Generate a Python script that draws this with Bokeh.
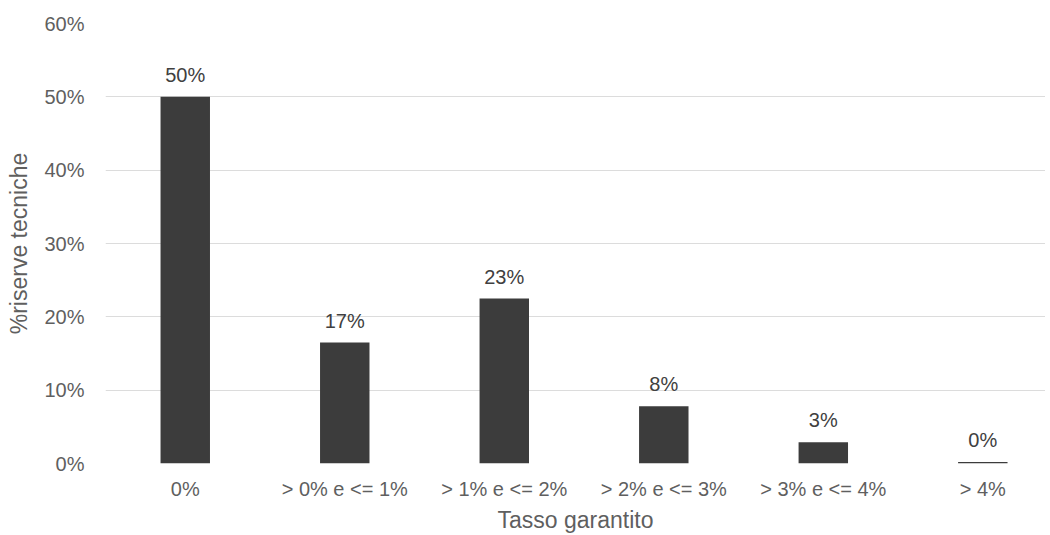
from bokeh.plotting import figure
from bokeh.models import ColumnDataSource, LabelSet, Range1d, FixedTicker, NumeralTickFormatter
from bokeh.core.properties import value
from bokeh.embed import file_html
from bokeh.resources import INLINE

categories = ["0%", "> 0% e <= 1%", "> 1% e <= 2%", "> 2% e <= 3%", "> 3% e <= 4%", "> 4%"]
values = [0.50, 0.165, 0.225, 0.078, 0.029, 0.002]
labels = ["50%", "17%", "23%", "8%", "3%", "0%"]
y_ticks = [0, 0.1, 0.2, 0.3, 0.4, 0.5, 0.6]

xs = list(range(len(categories)))
src = ColumnDataSource(dict(x=xs, top=values, lab=labels))

font = "Liberation Sans"

p = figure(width=1045, height=535, output_backend="svg", toolbar_location=None,
           x_range=Range1d(-0.5, 5.393), y_range=Range1d(0, 0.6),
           min_border_left=105, min_border_top=23, min_border_right=0, min_border_bottom=72)

p.vbar(x="x", top="top", width=0.31, source=src, color="#3c3c3c", line_color=None)

p.add_layout(LabelSet(x="x", y="top", text="lab", source=src, y_offset=11,
                      text_align="center", text_baseline="bottom",
                      text_font=value(font), text_font_size="20px",
                      text_color="#404040"))

p.outline_line_color = None
p.background_fill_color = "white"
p.border_fill_color = "white"

p.xgrid.grid_line_color = None
p.ygrid.grid_line_color = "#dcdcdc"
p.ygrid.grid_line_width = 1
p.yaxis.ticker = FixedTicker(ticks=y_ticks)
p.yaxis.formatter = NumeralTickFormatter(format="0%")

p.xaxis.ticker = FixedTicker(ticks=xs)
p.xaxis.major_label_overrides = {i: c for i, c in enumerate(categories)}

for ax in (p.xaxis, p.yaxis):
    ax.axis_line_color = None
    ax.major_tick_line_color = None
    ax.minor_tick_line_color = None
    ax.major_tick_out = 0
    ax.major_tick_in = 0
    ax.major_label_text_font = font
    ax.major_label_text_font_size = "20px"
    ax.major_label_text_color = "#5f5f5f"
    ax.axis_label_text_font = font
    ax.axis_label_text_font_size = "23px"
    ax.axis_label_text_font_style = "normal"
    ax.axis_label_text_color = "#5f5f5f"

p.xaxis.major_label_standoff = 14
p.xaxis.axis_label = "Tasso garantito"
p.xaxis.axis_label_standoff = 4
p.yaxis.major_label_standoff = 21
p.yaxis.axis_label = "%riserve tecniche"
p.yaxis.axis_label_standoff = 9

open("out.html", "w").write(file_html(p, INLINE))
